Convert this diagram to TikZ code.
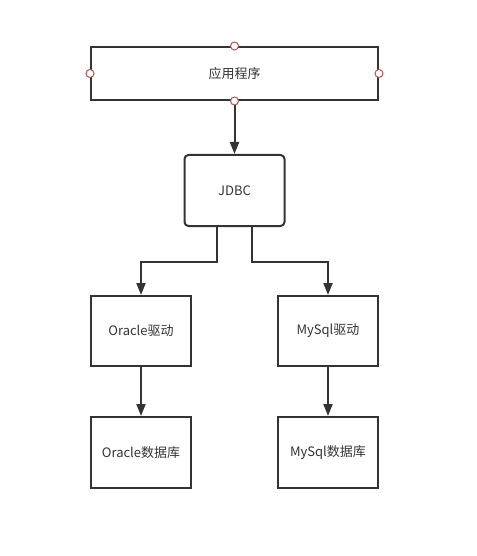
\documentclass[tikz,border=0pt]{standalone}
\usepackage{fontspec}
\setmainfont{Noto Sans CJK SC}
\usetikzlibrary{arrows.meta}

\definecolor{linegray}{HTML}{333333}
\definecolor{portred}{HTML}{B85450}

\tikzset{
  box/.style={draw=linegray,line width=2pt,minimum width=100pt,minimum height=70pt,
    inner sep=0pt,text=linegray,font=\fontsize{13}{15}\selectfont},
  port/.style={circle,draw=portred,fill=white,line width=1pt,minimum size=8pt,inner sep=0pt},
  flow/.style={draw=linegray,line width=2pt,-{Triangle[length=12pt,width=9pt]}}
}

\begin{document}
\begin{tikzpicture}[x=1pt,y=-1pt]
\useasboundingbox (0,0) rectangle (476,556);

\node[box,minimum width=287pt,minimum height=53pt] (app) at (234.5,73.5) {应用程序};
\node[box,rounded corners=4pt,minimum height=71pt] (jdbc) at (234.5,190.5) {JDBC};
\node[box] (oradrv) at (141,331) {Oracle驱动};
\node[box] (mydrv) at (328,331) {MySql驱动};
\node[box,minimum height=71pt] (oradb) at (141,452.5) {Oracle数据库};
\node[box,minimum height=71pt] (mydb) at (328,452.5) {MySql数据库};

\draw[flow] (app.south) -- (jdbc.north);
\draw[flow] ([xshift=-17.5pt]jdbc.south) -- ++(0,35) -| (oradrv.north);
\draw[flow] ([xshift=17.5pt]jdbc.south) -- ++(0,35) -| (mydrv.north);
\draw[flow] (oradrv.south) -- (oradb.north);
\draw[flow] (mydrv.south) -- (mydb.north);

\foreach \a in {north,south,east,west}
  \node[port] (port-\a) at (app.\a) {};

\end{tikzpicture}
\end{document}
